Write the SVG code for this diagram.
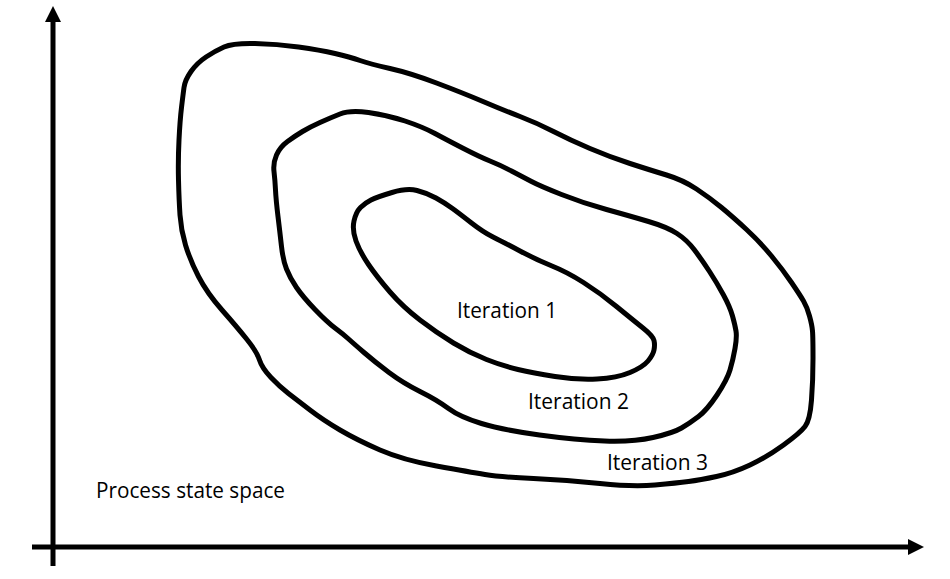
<svg xmlns="http://www.w3.org/2000/svg" width="950" height="579" viewBox="0 0 950 579">
<style>
.contour{fill:none;stroke:#000;stroke-width:5;stroke-linejoin:round;stroke-linecap:round}
.axis{stroke:#000;stroke-width:5;fill:none}
.lbl{font-family:"Open Sans","Liberation Sans",sans-serif;font-size:21px;fill:#000}
</style>
<defs>
<marker id="arr" markerUnits="userSpaceOnUse" markerWidth="18" markerHeight="18" refX="2" refY="8" orient="auto">
<polygon points="0,0 16,8 0,16" fill="#000"/>
</marker>
</defs>
<rect width="950" height="579" fill="#fff"/>
<g id="connectors">
<line class="axis" x1="53" y1="566" x2="53" y2="20" marker-end="url(#arr)"/>
<line class="axis" x1="32" y1="547" x2="910" y2="547" marker-end="url(#arr)"/>
</g>
<g id="iteration3">
<path class="contour" d="M184,87.5 Q185,80 191,71.5 Q197,63 206,57 Q215,51 224,47 Q233,43 255,43.5 Q277,44 298.5,47 Q320,50 335,53.5 Q350,57 360,60.5 Q370,64 390,68.5 Q410,73 436.5,83 Q463,93 483,101.5 Q503,110 520,116.5 Q537,123 553.5,131.5 Q570,140 590,148.5 Q610,157 630,163.5 Q650,170 666.5,175 Q683,180 696.5,189 Q710,198 721.5,207.5 Q733,217 746.5,229.5 Q760,242 771.5,256 Q783,270 791.5,282.5 Q800,295 803.5,301 Q807,307 809.5,316 Q812,325 812.5,331 Q813,337 813,358.5 Q813,380 811.5,400 Q810,420 805,426.5 Q800,433 783.5,445 Q767,457 750,465 Q733,473 716.5,476.5 Q700,480 688.5,481.5 Q677,483 655,485 Q633,487 600,483.5 Q567,480 533.5,478.5 Q500,477 485,474.5 Q470,472 436.5,466 Q403,460 380,450 Q357,440 340,430 Q323,420 310,410 Q297,400 288.5,393.5 Q280,387 271,377.5 Q262,368 259.5,360 Q257,352 247,339.5 Q237,327 222,310 Q207,293 198.5,276.5 Q190,260 185.5,245 Q181,230 180,215 Q179,200 178.5,180 Q178,160 179,140 Q180,120 181.5,107.5 Q183,95 184,87.5 Z"/>
<text class="lbl" x="607" y="470" textLength="101" lengthAdjust="spacingAndGlyphs">Iteration 3</text>
</g>
<g id="iteration2">
<path class="contour" d="M274,171.5 Q273,163 276.5,155 Q280,147 287.5,141.5 Q295,136 302.5,131.5 Q310,127 320,122.5 Q330,118 340,114 Q350,110 368.5,112.5 Q387,115 405,121 Q423,127 435,133.5 Q447,140 463.5,148.5 Q480,157 490,161 Q500,165 511.5,171 Q523,177 531.5,181.5 Q540,186 561.5,194.5 Q583,203 606.5,209.5 Q630,216 648.5,221.5 Q667,227 677,233.5 Q687,240 694.5,250 Q702,260 709.5,271.5 Q717,283 723.5,295 Q730,307 732.5,316 Q735,325 736,331 Q737,337 735,348.5 Q733,360 730,370 Q727,380 717,395 Q707,410 698.5,416.5 Q690,423 681.5,428 Q673,433 653,437.5 Q633,442 604.5,441 Q576,440 539.5,435 Q503,430 481.5,423.5 Q460,417 448.5,408.5 Q437,400 420,391.5 Q403,383 389,372.5 Q375,362 364,352.5 Q353,343 348,338.5 Q343,334 335,328 Q327,322 315,309.5 Q303,297 296.5,287.5 Q290,278 286.5,269 Q283,260 281.5,246.5 Q280,233 278,216.5 Q276,200 275.5,190 Q275,180 274,171.5 Z"/>
<text class="lbl" x="528" y="409" textLength="101" lengthAdjust="spacingAndGlyphs">Iteration 2</text>
</g>
<g id="iteration1">
<path class="contour" d="M356,241 Q352,230 354,221 Q356,212 360.5,207.5 Q365,203 371,200 Q377,197 392,192.5 Q407,188 417,190.5 Q427,193 436,198 Q445,203 452.5,208.5 Q460,214 471.5,223 Q483,232 493,237 Q503,242 520,251 Q537,260 552,266 Q567,272 583.5,282.5 Q600,293 616.5,306.5 Q633,320 643,328 Q653,336 654,340.5 Q655,345 654,350 Q653,355 648,361 Q643,367 630,372.5 Q617,378 597,379 Q577,380 555,376.5 Q533,373 518,369.5 Q503,366 486.5,359.5 Q470,353 453.5,343 Q437,333 420,320 Q403,307 390,292 Q377,277 368.5,264.5 Q360,252 356,241 Z"/>
<text class="lbl" x="457" y="318" textLength="100" lengthAdjust="spacingAndGlyphs">Iteration 1</text>
</g>
<g id="space-label">
<text class="lbl" x="96" y="498" textLength="189" lengthAdjust="spacingAndGlyphs">Process state space</text>
</g>
</svg>
